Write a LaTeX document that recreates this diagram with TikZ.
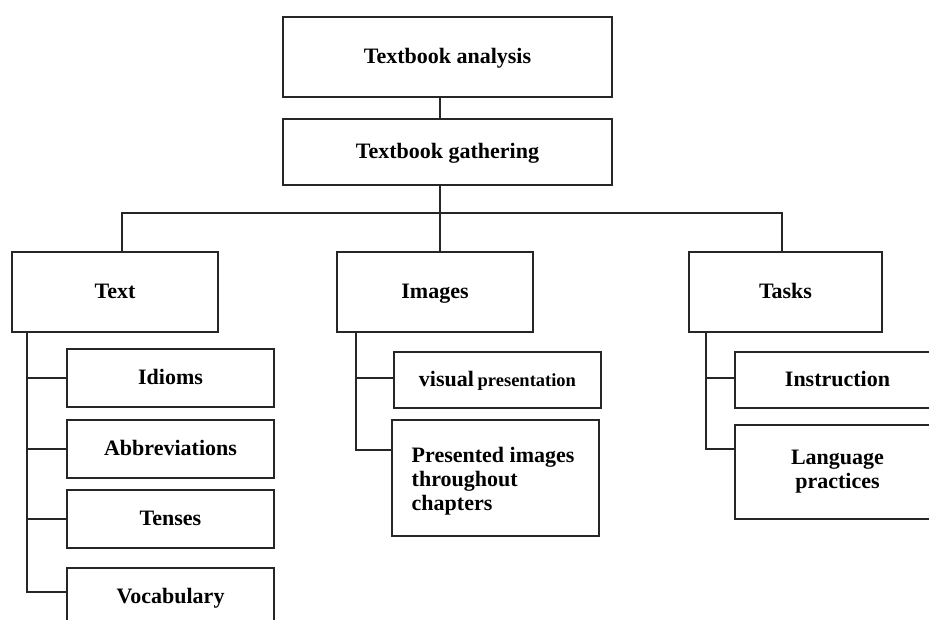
\documentclass[tikz,border=0pt]{standalone}
\usepackage{fontspec}
\setmainfont{Liberation Serif}
\begin{document}
\begin{tikzpicture}[x=1pt,y=-1pt,
  line width=1.4pt, draw=black!85,
  box/.style={draw=black!85, line width=1.4pt, rectangle, inner sep=0pt,
    font=\bfseries\fontsize{22}{24}\selectfont, align=center},
  oneline/.style={text height=17pt, text depth=4pt},
  wire/.style={draw=black!85, line width=1.4pt}]
\useasboundingbox (0,0) rectangle (929,619);
\clip (0,0) rectangle (929,619);

% top of the hierarchy
\node[box, oneline, minimum width=329, minimum height=80] (ana) at (447.5,57) {Textbook analysis};
\node[box, oneline, minimum width=329, minimum height=66] (gat) at (447.5,152) {Textbook gathering};

% three branches
\node[box, oneline, minimum width=206, minimum height=80] (txt) at (115,292) {Text};
\node[box, oneline, minimum width=196, minimum height=80] (img) at (435,292) {Images};
\node[box, oneline, minimum width=193, minimum height=80] (tsk) at (785.5,292) {Tasks};

% Text items
\node[box, oneline, minimum width=207, minimum height=58] (idi) at (170.5,378) {Idioms};
\node[box, oneline, minimum width=207, minimum height=58] (abb) at (170.5,449) {Abbreviations};
\node[box, oneline, minimum width=207, minimum height=58] (ten) at (170.5,519) {Tenses};
\node[box, oneline, minimum width=207, minimum height=58] (voc) at (170.5,597) {Vocabulary};

% Images items
\node[box, oneline, minimum width=207, minimum height=56] (vis) at (497.5,380)
  {visual\,{\fontsize{18.5}{20}\selectfont presentation}};
\node[box, minimum width=207, minimum height=116] (pre) at (495.5,478) {};
\node[font=\bfseries\fontsize{22}{24}\selectfont, align=left, anchor=west, inner sep=0pt]
  (pret) at (411,481) {Presented images\\throughout\\chapters};

% Tasks items
\node[box, oneline, minimum width=205, minimum height=56] (ins) at (837.5,380) {Instruction};
\node[box, minimum width=205, minimum height=94] (lan) at (837.5,472) {Language\\practices};

% connectors
\coordinate (jt) at (122,213);
\coordinate (ji) at (440,213);
\coordinate (jk) at (782,213);
\draw[wire] (ana.south -| ji) -- (gat.north -| ji);
\draw[wire] (gat.south -| ji) -- (ji);
\draw[wire] (txt.north -| jt) -- (jt) -- (jk) -- (tsk.north -| jk);
\draw[wire] (ji) -- (img.north -| ji);

% Text spine
\coordinate (st) at (27,0);
\draw[wire] (txt.south -| st) |- ([yshift=5pt]voc.west);
\draw[wire] (idi.west -| st) -- (idi.west);
\draw[wire] (abb.west -| st) -- (abb.west);
\draw[wire] (ten.west -| st) -- (ten.west);

% Images spine
\coordinate (si) at (356,0);
\draw[wire] (img.south -| si) |- ([yshift=28pt]pre.west);
\draw[wire] ([yshift=2pt]vis.west -| si) -- ([yshift=2pt]vis.west);

% Tasks spine
\coordinate (sk) at (706,0);
\draw[wire] (tsk.south -| sk) |- ([yshift=23pt]lan.west);
\draw[wire] ([yshift=2pt]ins.west -| sk) -- ([yshift=2pt]ins.west);
\end{tikzpicture}
\end{document}
